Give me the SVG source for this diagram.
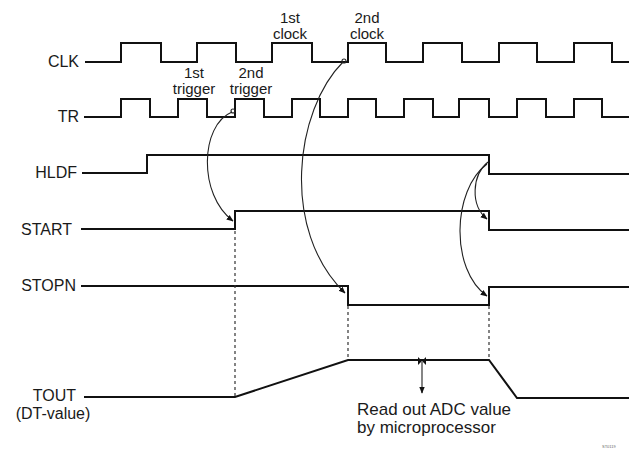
<svg xmlns="http://www.w3.org/2000/svg" width="629" height="452" viewBox="0 0 629 452">
<style>
text{font-family:"Liberation Sans",Arial,sans-serif;font-size:16px;fill:#1a1a1a}
.lab{text-anchor:end}
.mid{text-anchor:middle}
.sm{font-size:15px}
.note{font-size:17px}
.wave{fill:none;stroke:#111;stroke-width:2;stroke-linejoin:miter}
.arc{fill:none;stroke:#222;stroke-width:1.1}
.dash{fill:none;stroke:#333;stroke-width:1.2;stroke-dasharray:3 3}
</style>
<defs>
<marker id="ah" viewBox="0 0 10 10" refX="9" refY="5" markerWidth="7" markerHeight="7" markerUnits="userSpaceOnUse" orient="auto">
<path d="M0,1 L10,5 L0,9 Z" fill="#111"/>
</marker>
</defs>
<rect width="629" height="452" fill="#fff"/>
<g id="clk">
<text class="lab" x="79" y="67">CLK</text>
<path class="wave" d="M85,62 H121 V43 H161 V62 H197 V43 H236 V62 H272 V43 H312 V62 H348 V43 H386 V62 H423 V43 H462 V62 H499 V43 H537 V62 H574 V43 H612 V62 H629"/>
</g>
<g id="tr">
<text class="lab" x="79" y="122">TR</text>
<path class="wave" d="M84,117 H121 V99 H150 V117 H178 V99 H207 V117 H235 V99 H264 V117 H292 V99 H320 V117 H348 V99 H376 V117 H404 V99 H433 V117 H459 V99 H489 V117 H517 V99 H546 V117 H574 V99 H602 V117 H629"/>
</g>
<g id="hldf">
<text class="lab" x="77" y="178">HLDF</text>
<path class="wave" d="M82,173 H147 V155 H489 V174 H629"/>
</g>
<g id="start">
<text class="lab" x="72" y="235">START</text>
<path class="wave" d="M81,229 H235 V211 H489 V230 H629"/>
</g>
<g id="stopn">
<text class="lab" x="76" y="291">STOPN</text>
<path class="wave" d="M81,286 H348 V305 H489 V287 H629"/>
</g>
<g id="tout">
<text class="lab" x="76" y="401">TOUT</text>
<text class="mid" x="53" y="419">(DT-value)</text>
<path class="wave" d="M84,397 H235 L348,360 H489 L517,398 H629"/>
</g>
<g id="labels">
<text class="mid sm" x="290" y="23">1st</text>
<text class="mid sm" x="290" y="39">clock</text>
<text class="mid sm" x="367" y="23">2nd</text>
<text class="mid sm" x="367" y="39">clock</text>
<text class="mid sm" x="194" y="78">1st</text>
<text class="mid sm" x="194" y="94">trigger</text>
<text class="mid sm" x="251" y="78">2nd</text>
<text class="mid sm" x="251" y="94">trigger</text>
<text class="note" x="357" y="415">Read out ADC value</text>
<text class="note" x="357" y="433">by microprocessor</text>
<text x="602" y="448" style="font-size:4px;fill:#666">ST0119</text>
</g>
<g id="connectors">
<circle class="arc" cx="233" cy="111" r="2"/>
<circle class="arc" cx="344" cy="61" r="2"/>
<path class="arc" d="M232,112 C200,125 198,195 233,221" marker-end="url(#ah)"/>
<path class="arc" d="M343,62 C295,110 280,230 345,293" marker-end="url(#ah)"/>
<path class="arc" d="M488,162 C472,175 470,205 487,219" marker-end="url(#ah)"/>
<path class="arc" d="M487,164 C452,190 450,270 487,296" marker-end="url(#ah)"/>
<path class="dash" d="M235,231 V396"/>
<path class="dash" d="M348,306 V359"/>
<path class="dash" d="M489,306 V359"/>
<path d="M418,357 L426,365 L426,357 L418,365 Z" fill="#111"/>
<path class="arc" d="M422,362 V393" stroke-width="1.4" marker-end="url(#ah)"/>
</g>
</svg>
